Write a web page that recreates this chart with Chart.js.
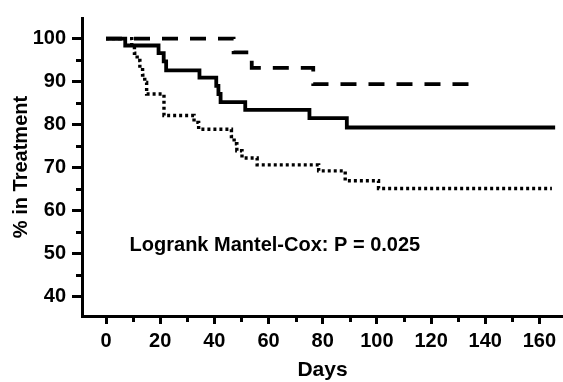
<!DOCTYPE html>
<html lang="en">
<head>
  <meta charset="UTF-8">
  <title>% in Treatment by Days</title>
  <script src="https://cdn.jsdelivr.net/npm/chart.js"></script>
  <style>
    body {
      margin: 0;
      background: #fff;
    }
    #chart-container {
      width: 563px;
      height: 382px;
    }
  </style>
</head>
<body>
  <div id="chart-container">
    <canvas id="kmChart" width="563" height="382"></canvas>
  </div>

  <script>
    // Kaplan-Meier step curves: day of each step and % remaining after it
    const solidDays = [0, 7.1, 19.4, 21.3, 22.2, 34.5, 40.7, 41.5, 42.3, 51.4, 75.1, 88.9, 165.8];
    const solidPct = [100, 98.4, 96.6, 94.7, 92.6, 90.9, 89.0, 87.1, 85.2, 83.4, 81.5, 79.3, 79.3];

    const dashedDays = [0, 47.1, 53.8, 76.5, 134.2];
    const dashedPct = [100, 96.8, 93.2, 89.4, 89.4];

    const dottedDays = [0, 9.5, 10.5, 11.5, 12.5, 13.5, 14.3, 15.0, 21.4, 32.5, 34.2, 46.3, 47.3, 48.3, 50.2, 55.8, 78.5, 88.3, 100.6, 164.6];
    const dottedPct = [100, 98.3, 96.6, 94.9, 93.2, 91.5, 89.8, 87.1, 82.1, 80.5, 78.9, 77.2, 75.5, 73.9, 72.2, 70.6, 69.2, 66.9, 65.1, 65.1];

    const xMajorTicks = [0, 20, 40, 60, 80, 100, 120, 140, 160];
    const xMinorTicks = [10, 30, 50, 70, 90, 110, 130, 150];
    const yMajorTicks = [40, 50, 60, 70, 80, 90, 100];
    const yMinorTicks = [45, 55, 65, 75, 85, 95];

    const noteText = 'Logrank Mantel-Cox: P = 0.025';
    const noteDay = 8.7;
    const notePct = 50.5;

    const FONT = '"Liberation Sans", Arial, Helvetica, sans-serif';

    function toPoints(days, pct) {
      return days.map((d, i) => ({ x: d, y: pct[i] }));
    }

    function curve(days, pct, dash, width) {
      return {
        data: toPoints(days, pct),
        stepped: 'before',
        borderColor: '#000',
        borderWidth: width,
        borderDash: dash,
        borderCapStyle: 'butt',
        pointRadius: 0,
        fill: false
      };
    }

    // short minor tick marks and the logrank note
    const extrasPlugin = {
      id: 'extras',
      afterDraw(chart) {
        const ctx = chart.ctx;
        const xs = chart.scales.x;
        const ys = chart.scales.y;
        ctx.save();
        ctx.strokeStyle = '#000';
        ctx.lineWidth = 3;
        ctx.beginPath();
        yMinorTicks.forEach(v => {
          const py = Math.round(ys.getPixelForValue(v)) + 0.5;
          ctx.moveTo(ys.right - 1, py);
          ctx.lineTo(ys.right - 6, py);
        });
        xMinorTicks.forEach(v => {
          const px = Math.round(xs.getPixelForValue(v)) + 0.5;
          ctx.moveTo(px, xs.top + 1);
          ctx.lineTo(px, xs.top + 6);
        });
        ctx.stroke();

        ctx.fillStyle = '#000';
        ctx.font = 'bold 20px ' + FONT;
        ctx.textAlign = 'left';
        ctx.textBaseline = 'alphabetic';
        ctx.fillText(noteText, xs.getPixelForValue(noteDay), ys.getPixelForValue(notePct));
        ctx.restore();
      }
    };

    const ctx = document.getElementById('kmChart').getContext('2d');
    new Chart(ctx, {
      type: 'line',
      data: {
        datasets: [
          curve(dottedDays, dottedPct, [3, 3], 3.4),
          curve(dashedDays, dashedPct, [16, 12], 3.8),
          curve(solidDays, solidPct, [], 3.8)
        ]
      },
      options: {
        responsive: false,
        animation: false,
        layout: { padding: { top: 12, right: 0, left: 0, bottom: 0 } },
        scales: {
          x: {
            type: 'linear',
            min: -8.86,
            max: 168.7,
            afterFit: scale => { scale.height = 66; },
            afterBuildTicks: scale => { scale.ticks = xMajorTicks.map(v => ({ value: v })); },
            border: { display: true, color: '#000', width: 3 },
            grid: {
              drawOnChartArea: false,
              drawTicks: true,
              tickLength: 8,
              tickWidth: 3,
              tickColor: '#000'
            },
            ticks: {
              color: '#000',
              padding: 5,
              maxRotation: 0,
              font: { family: FONT, size: 20, weight: 'bold' }
            },
            title: {
              display: true,
              text: 'Days',
              color: '#000',
              padding: { top: 0, bottom: 1 },
              font: { family: FONT, size: 21, weight: 'bold', lineHeight: 1 }
            }
          },
          y: {
            min: 35.4,
            max: 104.8,
            afterFit: scale => { scale.width = 82; },
            afterBuildTicks: scale => { scale.ticks = yMajorTicks.map(v => ({ value: v })); },
            border: { display: true, color: '#000', width: 3 },
            grid: {
              drawOnChartArea: false,
              drawTicks: true,
              tickLength: 10,
              tickWidth: 3,
              tickColor: '#000'
            },
            ticks: {
              color: '#000',
              padding: 6,
              font: { family: FONT, size: 20, weight: 'bold' }
            },
            title: {
              display: true,
              text: '% in Treatment',
              color: '#000',
              padding: { top: 11, bottom: 0 },
              font: { family: FONT, size: 20, weight: 'bold', lineHeight: 1 }
            }
          }
        },
        plugins: {
          legend: { display: false },
          tooltip: { enabled: false }
        }
      },
      plugins: [extrasPlugin]
    });
  </script>
</body>
</html>
